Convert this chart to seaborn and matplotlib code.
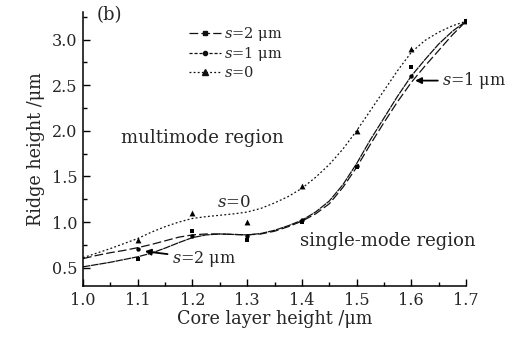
import numpy as np
import pandas as pd
import matplotlib
matplotlib.use("Agg")
import matplotlib.pyplot as plt
from matplotlib.lines import Line2D
from matplotlib.ticker import MultipleLocator
import seaborn as sns

# ---- data ----
x_pts = [1.1, 1.2, 1.3, 1.4, 1.5, 1.6, 1.7]
s2_pts = [0.60, 0.90, 0.80, 1.00, 1.60, 2.70, 3.20]
s1_pts = [0.70, 0.85, 0.85, 1.02, 1.62, 2.60, 3.20]
s0_pts = [0.80, 1.10, 1.00, 1.40, 2.00, 2.90, 3.20]

x_curve = [1.0, 1.025, 1.05, 1.075, 1.1, 1.125, 1.15, 1.175, 1.2, 1.225, 1.25, 1.275,
           1.3, 1.325, 1.35, 1.375, 1.4, 1.425, 1.45, 1.475, 1.5, 1.525, 1.55, 1.575,
           1.6, 1.625, 1.65, 1.675, 1.7]
s2_curve = [0.60, 0.635, 0.665, 0.69, 0.72, 0.755, 0.795, 0.835, 0.86, 0.87, 0.87, 0.865,
            0.86, 0.87, 0.90, 0.95, 1.01, 1.09, 1.20, 1.38, 1.60, 1.85, 2.09, 2.32,
            2.53, 2.71, 2.88, 3.05, 3.20]
s1_curve = [0.51, 0.535, 0.56, 0.59, 0.62, 0.66, 0.715, 0.775, 0.83, 0.86, 0.87, 0.865,
            0.86, 0.875, 0.91, 0.96, 1.02, 1.11, 1.23, 1.41, 1.64, 1.90, 2.14, 2.38,
            2.60, 2.78, 2.95, 3.09, 3.20]
s0_curve = [0.61, 0.66, 0.71, 0.765, 0.82, 0.89, 0.95, 1.00, 1.04, 1.06, 1.075, 1.09,
            1.11, 1.15, 1.21, 1.28, 1.37, 1.49, 1.63, 1.80, 2.00, 2.22, 2.44, 2.66,
            2.86, 2.99, 3.08, 3.15, 3.20]

labels = ["$s$=2 μm", "$s$=1 μm", "$s$=0"]

sns.set_theme(style="ticks")
plt.rcParams["font.family"] = ["DejaVu Serif"]
plt.rcParams["mathtext.fontset"] = "dejavuserif"
FS_TICK = 11.5
FS_LAB = 12.7
FS_REG = 13
FS_ANN = 11.5
FS_LEG = 10.5

fig = plt.figure(figsize=(5.2, 3.37), dpi=100)
ax = fig.add_axes([0.1596, 0.1513, 0.7366, 0.8127])

n = len(x_curve)
m = len(x_pts)
curves = pd.DataFrame({"x": x_curve * 3,
                       "y": s2_curve + s1_curve + s0_curve,
                       "series": [labels[0]] * n + [labels[1]] * n + [labels[2]] * n})
pts = pd.DataFrame({"x": x_pts * 3,
                    "y": s2_pts + s1_pts + s0_pts,
                    "series": [labels[0]] * m + [labels[1]] * m + [labels[2]] * m})

dash_map = {labels[0]: (7, 2.5), labels[1]: (6, 0.6), labels[2]: (1.5, 1.8)}
marker_map = {labels[0]: "s", labels[1]: "o", labels[2]: "^"}
size_map = {labels[0]: 10, labels[1]: 10, labels[2]: 18}

sns.lineplot(data=curves, x="x", y="y", hue="series", style="series",
             dashes=dash_map, palette=["#111111"] * 3, linewidth=0.9,
             legend=False, ax=ax, sort=False)
for lab in labels:
    sub = pts[pts["series"] == lab]
    sns.scatterplot(data=sub, x="x", y="y", marker=marker_map[lab], color="black",
                    s=size_map[lab], linewidth=0, legend=False, ax=ax, zorder=5)

ax.set_xlim(1.0, 1.7)
ax.set_ylim(0.3, 3.3)
ax.xaxis.set_minor_locator(MultipleLocator(0.05))
ax.yaxis.set_minor_locator(MultipleLocator(0.25))
ax.set_xticks([1.0, 1.1, 1.2, 1.3, 1.4, 1.5, 1.6, 1.7])
ax.set_xticklabels(["1.0", "1.1", "1.2", "1.3", "1.4", "1.5", "1.6", "1.7"])
ax.set_yticks([0.5, 1.0, 1.5, 2.0, 2.5, 3.0])
ax.set_yticklabels(["0.5", "1.0", "1.5", "2.0", "2.5", "3.0"])
ax.tick_params(which="major", direction="in", length=5, width=1, labelsize=FS_TICK,
               color="black", pad=4)
ax.tick_params(which="minor", direction="in", length=3, width=1, color="black")
for sp in ["top", "right"]:
    ax.spines[sp].set_visible(False)
for sp in ["left", "bottom"]:
    ax.spines[sp].set_linewidth(1.1)
    ax.spines[sp].set_color("black")

ax.set_xlabel("Core layer height /μm", fontsize=FS_LAB, labelpad=1)
ax.set_ylabel("Ridge height /μm", fontsize=FS_LAB, labelpad=5)

handles = [
    Line2D([], [], color="#111111", lw=0.9, dashes=dash_map[labels[0]], marker="s", markersize=3),
    Line2D([], [], color="#111111", lw=0.9, dashes=(2.5, 1.5), marker="o", markersize=3),
    Line2D([], [], color="#111111", lw=0.9, dashes=dash_map[labels[2]], marker="^", markersize=4),
]
ax.legend(handles, labels, loc="upper left", bbox_to_anchor=(0.262, 0.975), frameon=False,
          fontsize=FS_LEG, handlelength=2.2, handletextpad=0.2, labelspacing=0.15,
          borderaxespad=0)

ax.text(1.025, 3.27, "(b)", fontsize=FS_REG, ha="left", va="center")
ax.text(1.07, 1.92, "multimode region", fontsize=FS_REG, ha="left", va="center")
ax.text(1.245, 1.21, "$s$=0", fontsize=FS_ANN + 0.5, ha="left", va="center")
ax.text(1.397, 0.79, "single-mode region", fontsize=FS_REG, ha="left", va="center")
ax.annotate("$s$=2 μm", xy=(1.113, 0.68), xytext=(1.163, 0.60), fontsize=FS_ANN,
            ha="left", va="center",
            arrowprops=dict(arrowstyle="-|>", color="black", lw=1.3, shrinkA=1, shrinkB=0,
                            mutation_scale=9))
ax.annotate("$s$=1 μm", xy=(1.607, 2.55), xytext=(1.657, 2.55), fontsize=FS_ANN,
            ha="left", va="center", annotation_clip=False,
            arrowprops=dict(arrowstyle="-|>", color="black", lw=1.3, shrinkA=1, shrinkB=0,
                            mutation_scale=9))

fig.savefig("out.png", dpi=100)
